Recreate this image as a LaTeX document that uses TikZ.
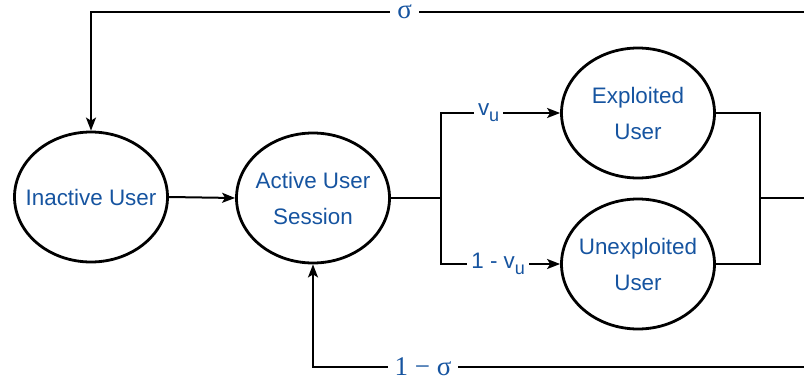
\documentclass[tikz,border=0pt]{standalone}
\usepackage{fontspec}
\setmainfont{Liberation Sans}
\newfontfamily\serifgreek{Liberation Serif}
\usetikzlibrary{shapes.geometric,arrows.meta}
\definecolor{labblue}{RGB}{22,84,160}
\newcommand{\vsub}{v\raisebox{-0.28em}{\fontsize{18}{18}\selectfont u}}
\tikzset{
  state/.style={ellipse, draw, line width=2.8pt, minimum width=153pt, minimum height=130pt,
    inner sep=0pt},
  statetext/.style={text=labblue, align=center, font=\fontsize{22.4}{36}\selectfont},
  link/.style={line width=2pt},
  arr/.style={link, -{Stealth[length=13pt,width=10pt,inset=3pt]}},
  lab/.style={fill=white, text=labblue, inner sep=4pt, font=\fontsize{22.4}{24}\selectfont},
  glab/.style={fill=white, text=labblue, inner xsep=7pt, inner ysep=1pt,
    font=\serifgreek\fontsize{27}{28}\selectfont}
}
\begin{document}
\begin{tikzpicture}[x=1pt,y=-1pt]
  \useasboundingbox (0,0) rectangle (804,383);

  % states (text set as centred labels so the ellipses keep their size)
  \node[state, label={[statetext]center:Inactive User}] (inact) at (91,197) {};
  \node[state, label={[statetext]center:Active User\\Session}] (act) at (313,198) {};
  \node[state, label={[statetext]center:Exploited\\User}] (expl) at (638,113) {};
  \node[state, label={[statetext]center:Unexploited\\User}] (unex) at (638,264) {};

  % junctions and loose ends at the right margin
  \coordinate (jl) at (441,198);
  \coordinate (jr) at (760,198);
  \coordinate (rmid) at (804,198);
  \coordinate (rtop) at (804,12);
  \coordinate (rbot) at (804,367);

  % forward flow
  \draw[arr] (inact.east) -- (act.west);
  \draw[link] (act.east) -- (jl);
  \draw[arr] (jl) |- node[lab, pos=0.7] {\vsub} (expl.west);
  \draw[arr] (jl) |- node[lab, pos=0.74] {1 - \vsub} (unex.west);

  % merge on the right
  \draw[link] (expl.east) -| (jr);
  \draw[link] (unex.east) -| (jr);
  \draw[link] (jr) -- (rmid);

  % feedback loops
  \draw[arr] (rtop) -| node[glab, pos=0.28, text height=12pt, text depth=0pt] {σ} (inact.north);
  \draw[arr] (rbot) -| node[glab, pos=0.388] {1 − σ} (act.south);
\end{tikzpicture}
\end{document}
